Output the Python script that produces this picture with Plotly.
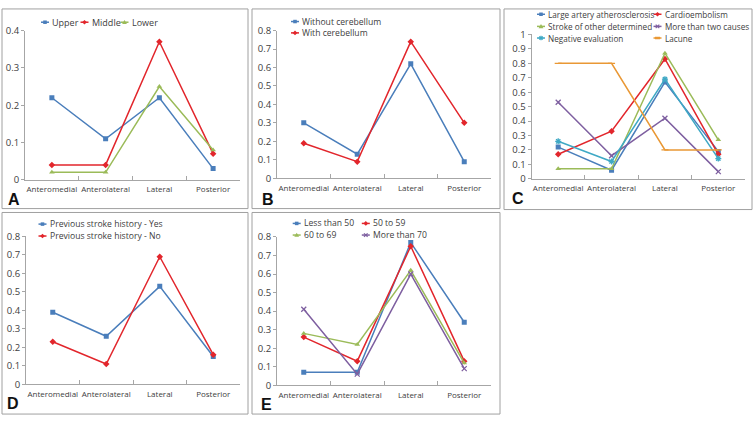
import plotly.graph_objects as go

W, H = 753, 422

# ---------------- data ----------------
categories = ["Anteromedial", "Anterolateral", "Lateral", "Posterior"]

a_upper = [0.22, 0.11, 0.22, 0.03]
a_middle = [0.04, 0.04, 0.37, 0.07]
a_lower = [0.02, 0.02, 0.25, 0.08]

b_without = [0.30, 0.13, 0.62, 0.09]
b_with = [0.19, 0.09, 0.74, 0.30]

c_large_artery = [0.22, 0.06, 0.67, 0.19]
c_cardioembolism = [0.17, 0.33, 0.83, 0.17]
c_other_determined = [0.07, 0.07, 0.87, 0.27]
c_more_than_two = [0.53, 0.16, 0.42, 0.05]
c_negative = [0.26, 0.12, 0.69, 0.14]
c_lacune = [0.80, 0.80, 0.20, 0.20]

d_prev_yes = [0.39, 0.26, 0.53, 0.15]
d_prev_no = [0.23, 0.11, 0.69, 0.16]

e_lt50 = [0.07, 0.07, 0.77, 0.34]
e_50_59 = [0.26, 0.13, 0.75, 0.13]
e_60_69 = [0.28, 0.22, 0.62, 0.12]
e_gt70 = [0.41, 0.06, 0.60, 0.09]

# ---------------- styles ----------------
BLUE = "#4A7EBB"
RED = "#E2262C"
GREEN = "#9BBB59"
PURPLE = "#7E5FA0"
CYAN = "#3FA9C5"
ORANGE = "#E99835"

TXT = "#404040"
AXC = "#A6A6A6"
FONT = "Open Sans"


def px(x):
    return x / W


def py(y):
    return 1 - y / H


panels = [
    dict(ax="", letter="A", box=(2, 2, 248, 208), xdom=(25, 240), ydom=(178.3, 24.3), ymax=0.4,
         letter_pos=(14, 198.5), lfont=9,
         series=[("Upper", a_upper, BLUE, "square", (45, 15.7)),
                 ("Middle", a_middle, RED, "diamond", (84.5, 15.7)),
                 ("Lower", a_lower, GREEN, "triangle", (124.5, 15.7))]),
    dict(ax="2", letter="B", box=(252, 2, 500, 208), xdom=(277, 491), ydom=(176.7, 24.3), ymax=0.8,
         letter_pos=(267.5, 198.5), lfont=8.6,
         series=[("Without cerebellum", b_without, BLUE, "square", (295, 15)),
                 ("With cerebellum", b_with, RED, "diamond", (295, 26.7))]),
    dict(ax="3", letter="C", box=(504, 2, 752, 209), xdom=(531.5, 745), ydom=(177.3, 28.3), ymax=1.0,
         letter_pos=(518, 197.5), lfont=8.2,
         series=[("Large artery atherosclerosis", c_large_artery, BLUE, "square", (541, 7.5)),
                 ("Cardioembolism", c_cardioembolism, RED, "diamond", (657.5, 7.5)),
                 ("Stroke of other determined", c_other_determined, GREEN, "triangle", (541, 20)),
                 ("More than two causes", c_more_than_two, PURPLE, "x", (657.5, 20)),
                 ("Negative evaluation", c_negative, CYAN, "star", (541, 32)),
                 ("Lacune", c_lacune, ORANGE, "dash", (657.5, 32))]),
    dict(ax="4", letter="D", box=(2, 212, 248, 420), xdom=(26, 240), ydom=(389.3, 236.7), ymax=0.8,
         letter_pos=(12.5, 409), lfont=8.6,
         series=[("Previous stroke history - Yes", d_prev_yes, BLUE, "square", (42.5, 224)),
                 ("Previous stroke history - No", d_prev_no, RED, "diamond", (42.5, 236.3))]),
    dict(ax="5", letter="E", box=(252, 212, 500, 420), xdom=(277, 491), ydom=(390.3, 237.3), ymax=0.8,
         letter_pos=(266.5, 410), lfont=8.6,
         series=[("Less than 50", e_lt50, BLUE, "square", (296.7, 223.3)),
                 ("50 to 59", e_50_59, RED, "diamond", (365.8, 223.3)),
                 ("60 to 69", e_60_69, GREEN, "triangle", (296.7, 235.3)),
                 ("More than 70", e_gt70, PURPLE, "x", (365.8, 235.3))]),
]

plotly_symbol = {"square": "square", "diamond": "diamond", "triangle": "triangle-up",
                 "x": "x-thin", "star": "asterisk", "dash": "line-ew"}

fig = go.Figure()
shapes = []
annotations = []


def path_of(points, close=True):
    s = "M " + " L ".join(f"{px(x):.5f},{py(y):.5f}" for x, y in points)
    return s + (" Z" if close else "")


def legend_key(cx, cy, color, sym):
    # short line segment
    shapes.append(dict(type="line", xref="paper", yref="paper",
                       x0=px(cx - 4), x1=px(cx + 4), y0=py(cy), y1=py(cy),
                       line=dict(color=color, width=1.5)))
    r = 1.8
    if sym == "square":
        shapes.append(dict(type="path", xref="paper", yref="paper",
                           path=path_of([(cx - r, cy - r), (cx + r, cy - r), (cx + r, cy + r), (cx - r, cy + r)]),
                           fillcolor=color, line=dict(width=0)))
    elif sym == "diamond":
        shapes.append(dict(type="path", xref="paper", yref="paper",
                           path=path_of([(cx, cy - 2.4), (cx + 2.4, cy), (cx, cy + 2.4), (cx - 2.4, cy)]),
                           fillcolor=color, line=dict(width=0)))
    elif sym == "triangle":
        shapes.append(dict(type="path", xref="paper", yref="paper",
                           path=path_of([(cx, cy - 2.4), (cx + 2.4, cy + 1.8), (cx - 2.4, cy + 1.8)]),
                           fillcolor=color, line=dict(width=0)))
    elif sym == "x":
        shapes.append(dict(type="path", xref="paper", yref="paper",
                           path=path_of([(cx - r, cy - r), (cx + r, cy + r)], False) + " " +
                           path_of([(cx - r, cy + r), (cx + r, cy - r)], False),
                           line=dict(color=color, width=1.2)))
    elif sym == "star":
        shapes.append(dict(type="path", xref="paper", yref="paper",
                           path=path_of([(cx - 2.4, cy), (cx + 2.4, cy)], False) + " " +
                           path_of([(cx, cy - 2.4), (cx, cy + 2.4)], False) + " " +
                           path_of([(cx - 1.7, cy - 1.7), (cx + 1.7, cy + 1.7)], False) + " " +
                           path_of([(cx - 1.7, cy + 1.7), (cx + 1.7, cy - 1.7)], False),
                           line=dict(color=color, width=1.1)))
    elif sym == "dash":
        shapes.append(dict(type="line", xref="paper", yref="paper",
                           x0=px(cx - 2.5), x1=px(cx + 2.5), y0=py(cy), y1=py(cy),
                           line=dict(color=color, width=2.5)))


for p in panels:
    ax = p["ax"]
    for name, vals, color, sym, (kx, ky) in p["series"]:
        psym = plotly_symbol[sym]
        open_sym = sym in ("x", "star", "dash")
        fig.add_trace(go.Scatter(
            x=categories, y=vals, name=name, mode="lines+markers",
            xaxis="x" + ax, yaxis="y" + ax, showlegend=False,
            line=dict(color=color, width=1.5),
            marker=dict(symbol=psym, size=5, color=color,
                        line=dict(color=color, width=1.3 if open_sym else 0)),
            hoverinfo="x+y+name"))
        legend_key(kx, ky, color, sym)
        annotations.append(dict(text=name, x=px(kx + 5), y=py(ky), xref="paper", yref="paper",
                                xanchor="left", yanchor="middle", showarrow=False,
                                font=dict(family=FONT, size=p["lfont"], color=TXT)))
    x0, y0, x1, y1 = p["box"]
    shapes.append(dict(type="rect", xref="paper", yref="paper", layer="below",
                       x0=px(x0), x1=px(x1), y0=py(y1), y1=py(y0),
                       line=dict(color="#A0A0A0", width=1)))
    lx, ly = p["letter_pos"]
    annotations.append(dict(text="<b>" + p["letter"] + "</b>", x=px(lx), y=py(ly),
                            xref="paper", yref="paper", xanchor="center", yanchor="middle",
                            showarrow=False,
                            font=dict(family="Liberation Sans", size=16, color="#111111")))
    xa = dict(domain=[px(p["xdom"][0]), px(p["xdom"][1])], anchor="y" + ax,
              range=[-0.5, 3.5], showline=True, linecolor=AXC, linewidth=1,
              ticks="inside", tickson="boundaries", ticklen=4, tickcolor=AXC,
              showgrid=False, zeroline=False, tickangle=0, ticklabelstandoff=2,
              tickfont=dict(family=FONT, size=8, color=TXT))
    ya = dict(domain=[py(p["ydom"][0]), py(p["ydom"][1])], anchor="x" + ax,
              range=[0, p["ymax"]], dtick=0.1, tick0=0, showline=True, linecolor=AXC,
              linewidth=1, ticks="outside", ticklen=3, tickcolor=AXC,
              showgrid=False, zeroline=False,
              tickfont=dict(family=FONT, size=9.5, color=TXT))
    fig.update_layout({"xaxis" + ax: xa, "yaxis" + ax: ya})

fig.update_layout(
    width=W, height=H,
    margin=dict(l=0, r=0, t=0, b=0),
    paper_bgcolor="white", plot_bgcolor="white",
    showlegend=False,
    shapes=shapes, annotations=annotations,
    font=dict(family=FONT, color=TXT),
)

fig.write_html("out.html", config={"displayModeBar": False},
               post_script="document.body.style.margin='0';")
